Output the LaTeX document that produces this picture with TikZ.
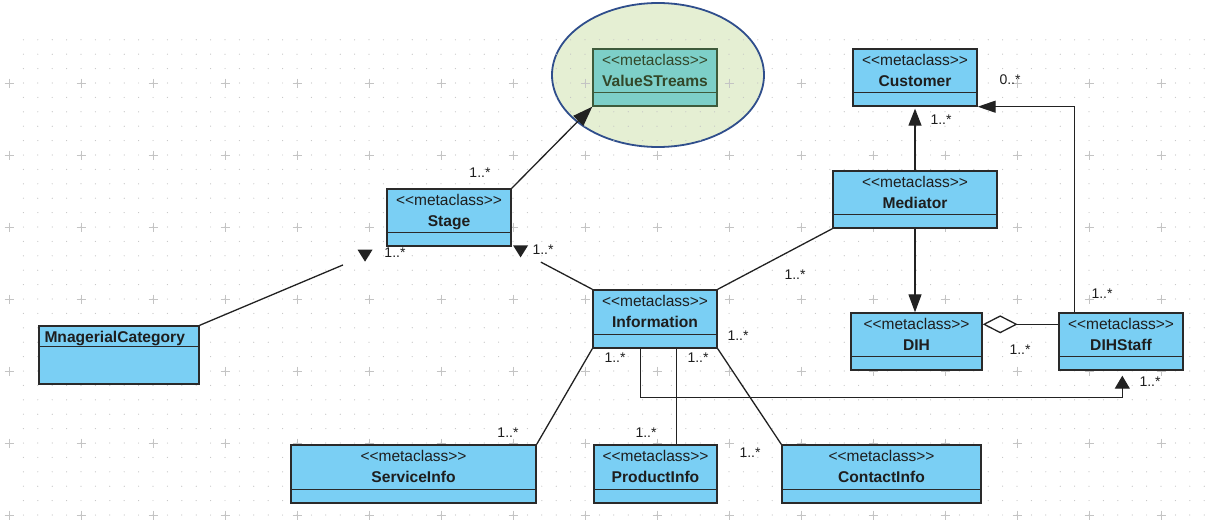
\documentclass[tikz,border=0pt]{standalone}
\usepackage{fontspec}
\setmainfont{Liberation Sans}
\usetikzlibrary{arrows.meta, fit, shapes.geometric}
\definecolor{cbox}{HTML}{7ACFF4}
\definecolor{cline}{HTML}{2A2A2A}
\definecolor{ctext}{HTML}{1E1E1E}
\definecolor{vbox}{HTML}{7DCFC8}
\definecolor{vline}{HTML}{3E5B3B}
\definecolor{vtext}{HTML}{33482A}
\definecolor{hlfill}{HTML}{E5EFD3}
\definecolor{hlline}{HTML}{2F4E8C}
\definecolor{edge}{HTML}{222222}
\definecolor{gridc}{HTML}{C4C4C4}
\newcommand{\stereo}{<\kern0pt<metaclass>\kern0pt>}
\tikzset{
  cls/.style={draw=cline, fill=cbox, line width=1.4pt, inner sep=0pt},
  divl/.style={draw=cline, line width=1.2pt},
  st/.style={font=\fontsize{15.5}{18}\selectfont, text=ctext, inner sep=0pt},
  nm/.style={st, font=\fontsize{15.6}{18}\selectfont\bfseries},
  mult/.style={font=\fontsize{14}{16}\selectfont, text=ctext, inner sep=1pt},
  a/.style={draw=edge, line width=1.3pt},
  tri/.style={a, -{Triangle[length=17pt, width=13pt]}},
  hl/.style={ellipse, draw=hlline, fill=hlfill, line width=1.8pt, minimum width=212pt, minimum height=144pt},
  griddot/.style={fill=gridc},
  gridplus/.style={draw=gridc, line width=0.9pt},
  downtip/.pic={\fill[edge] (-7.5,-6) -- (7.5,-6) -- (0,6) -- cycle;},
}
% one metaclass box: name, left, top, right, bottom, title
\newcommand{\umlbox}[6]{%
  \node[cls, fit={(#2,#3) (#4,#5)}] (#1) {};
  \draw[divl] ([yshift=14pt]#1.south west) -- ([yshift=14pt]#1.south east);
  \node[st, anchor=base] (#1-s) at ([yshift=-17pt]#1.north) {\stereo};
  \node[nm, anchor=base] (#1-n) at ([yshift=-38pt]#1.north) {#6};
}

\begin{document}
\begin{tikzpicture}[x=1pt, y=-1pt]
\useasboundingbox (0,0) rectangle (1207,527);
\fill[white] (0,0) rectangle (1207,527);

\node[hl] (focus) at (658,75) {};

% grid
\foreach \i in {0,...,82}
  \foreach \j in {0,...,33}
    \fill[griddot] ({23.4+14.4*\i},{39.8+14.4*\j}) circle (0.6pt);
\foreach \i in {0,...,16}
  \foreach \j in {0,...,6}
    \draw[gridplus] ({4.5+72*\i},{83+72*\j}) -- ++(9,0)
                    ({9+72*\i},{78.5+72*\j}) -- ++(0,9);

% classes
\node[cls, draw=vline, fill=vbox, fit={(593,49) (717,106)}] (vs) {};
\draw[divl, draw=vline] ([yshift=14pt]vs.south west) -- ([yshift=14pt]vs.south east);
\node[st, text=vtext, anchor=base] (vs-s) at ([yshift=-17pt]vs.north) {\stereo};
\node[nm, text=vtext, anchor=base] (vs-n) at ([yshift=-38pt]vs.north) {ValueSTreams};

\umlbox{stage}{387}{189}{511}{246}{Stage}
\umlbox{cust}{853}{49}{977}{106}{Customer}
\umlbox{med}{833}{171}{997}{228}{Mediator}
\umlbox{info}{593}{290}{717}{348}{Information}
\umlbox{dih}{851}{313}{982}{370}{DIH}
\umlbox{dstaff}{1059}{313}{1183}{370}{DIHStaff}
\umlbox{svc}{291}{445}{536}{503}{ServiceInfo}
\umlbox{prod}{594}{445}{717}{503}{ProductInfo}
\umlbox{cont}{782}{445}{981}{503}{ContactInfo}

\node[cls, fit={(39,326) (199,384)}] (mcat) {};
\draw[divl] ([yshift=-21pt]mcat.north west) -- ([yshift=-21pt]mcat.north east);
\node[nm, anchor=base west] (mcat-n) at ([xshift=6pt,yshift=-17pt]mcat.north west) {MnagerialCategory};

% connectors
\draw[a, -{Triangle[length=20pt, width=14pt]}] (stage.north east) -- (vs.south west);
\draw[a, shorten >=47pt] (mcat.north east) -- pic[pos=0.886]{downtip} (stage.south west);
\draw[a, shorten >=33pt] (info.north west) -- pic[pos=0.89]{downtip} (stage.south east);
\draw[a] (med.south west) -- (info.north east);
\draw[tri, shorten >=2pt] (med.north) -- (cust.south);
\draw[a, -{Triangle[length=18pt, width=13pt]}] (med.south) -- (med.south |- dih.north);
\draw[a, -{Triangle[length=18pt, width=12pt]}] ([xshift=16pt]dstaff.north west) |- (cust.south east);
\draw[a, -{Diamond[fill=white, length=35pt, width=18pt]}] ([yshift=-12pt]dstaff.north west) -- ([yshift=-12pt]dih.north east);
\draw[a, -{Triangle[length=13pt, width=15pt]}, shorten >=5pt] ([xshift=48pt]info.south west)
  |- ([xshift=64pt, yshift=-27pt]dstaff.south west) -- ([xshift=64pt]dstaff.south west);
\draw[a] (info.south west) -- (svc.north east);
\draw[a] ([xshift=84pt]info.south west) -- ([xshift=83pt]prod.north west);
\draw[a] (info.south east) -- (cont.north west);

% multiplicities
\node[mult] (m1) at (480,173) {1..*};
\node[mult] (m2) at (395,253) {1..*};
\node[mult] (m3) at (543,250) {1..*};
\node[mult] (m4) at (795,275) {1..*};
\node[mult] (m5) at (941,120) {1..*};
\node[mult] (m6) at (1010,80) {0..*};
\node[mult] (m7) at (1102,294) {1..*};
\node[mult] (m8) at (1020,350) {1..*};
\node[mult] (m9) at (1150,382) {1..*};
\node[mult] (m10) at (738,336) {1..*};
\node[mult] (m11) at (615,358) {1..*};
\node[mult] (m12) at (698,358) {1..*};
\node[mult] (m13) at (508,433) {1..*};
\node[mult] (m14) at (646,433) {1..*};
\node[mult] (m15) at (750,453) {1..*};
\end{tikzpicture}
\end{document}
